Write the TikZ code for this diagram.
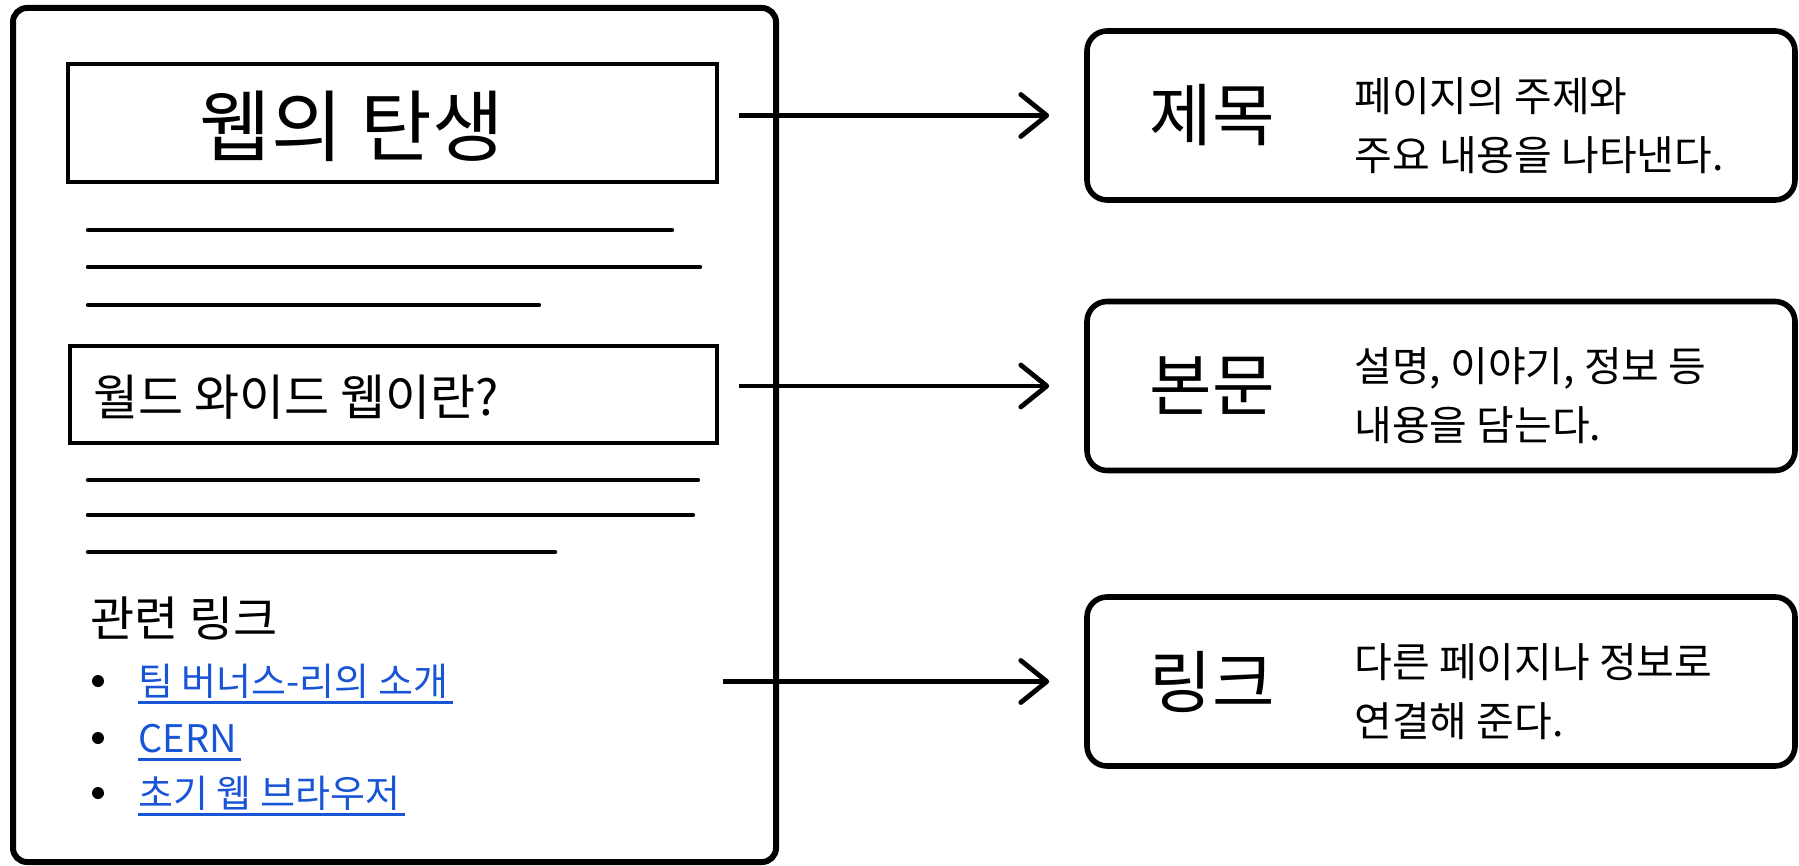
\documentclass[tikz,border=0pt]{standalone}
\usepackage{fontspec}
\newfontfamily\kr{Noto Sans CJK KR}
\usetikzlibrary{arrows.meta}
\definecolor{linkblue}{RGB}{24,84,214}
\tikzstyle{pageframe}=[draw,line width=3pt,rounded corners=7pt]
\tikzstyle{headbox}=[draw,line width=2.2pt,inner sep=0pt]
\tikzstyle{textline}=[line width=2.2pt,line cap=round]
\tikzstyle{partbox}=[draw,line width=2.8pt,rounded corners=10pt,minimum width=354pt,minimum height=84.5pt,inner sep=0pt]
\tikzstyle{parthead}=[inner sep=0pt,font=\kr\fontsize{34}{40}\selectfont]
\tikzstyle{partdesc}=[anchor=west,align=left,inner sep=0pt,font=\kr\fontsize{20.5}{29.5}\selectfont]
\tikzstyle{pointer}=[line width=2.4pt,-{Straight Barb[length=13pt,width=21pt,round]},shorten <=10pt,shorten >=17.5pt]
\tikzstyle{linkitem}=[anchor=base west,inner sep=0pt,text=linkblue,font=\kr\fontsize{19}{22}\selectfont]
\newcommand{\drawpart}[4]{
\pgfmathsetmacro{\yc}{#2}
\node[partbox] (#1) at (1441,\yc) {};
\node[parthead] (#1head) at (1212,\yc) {#3};
\node[partdesc] (#1desc) at (1354,\yc+10) {#4};
}

\begin{document}
\begin{tikzpicture}[x=0.5pt,y=-0.5pt]
	\useasboundingbox (0,0) rectangle (1799,866);
	% the page
	\draw[pageframe] (13,8) rectangle (776,862);
	\node[headbox,minimum width=324.5pt,minimum height=59pt] (titlebox) at (392.5,123) {};
	\node[inner sep=0pt,font=\kr\fontsize{39}{44}\selectfont] (titletext) at (352,126) {웹의 탄생};
	\node[headbox,minimum width=323.5pt,minimum height=48.5pt] (subbox) at (393.5,394.5) {};
	\node[anchor=west,inner sep=0pt,font=\kr\fontsize{24.5}{28}\selectfont] (subtext) at (93,397) {월드 와이드 웹이란?};
	\foreach \y/\xe in {230/672,267/700,305/539,480/698,515/693,552/555} {
		\draw[textline] (88,\y) -- (\xe,\y);
	}
	\node[anchor=west,inner sep=0pt,font=\kr\fontsize{24}{28}\selectfont] (linkhead) at (90,618) {관련 링크};
	\node[linkitem] (link1) at (138,695) {팀 버너스-리의 소개};
	\node[linkitem] (link2) at (138,752) {CERN};
	\node[linkitem] (link3) at (138,807) {초기 웹 브라우저};
	\foreach \i in {1,2,3} {
		\fill ([xshift=-20pt,yshift=7pt]link\i.base west) circle (3pt);
		\draw[linkblue,line width=1.5pt] ([yshift=-3.5pt]link\i.base west) -- ([xshift=2pt,yshift=-3.5pt]link\i.base east);
	}
	\coordinate (linkout) at (703,683);

	% the parts
	\drawpart{part1}{115.5}{제목}{페이지의 주제와\\주요 내용을 나타낸다.}
	\drawpart{part2}{386}{본문}{설명, 이야기, 정보 등\\내용을 담는다.}
	\drawpart{part3}{681.5}{링크}{다른 페이지나 정보로\\연결해 준다.}

	\foreach \src/\dst in {titlebox.east/part1,subbox.east/part2,linkout/part3} {
		\draw[pointer] (\src |- \dst.west) -- (\dst.west);
	}
\end{tikzpicture}
\end{document}
